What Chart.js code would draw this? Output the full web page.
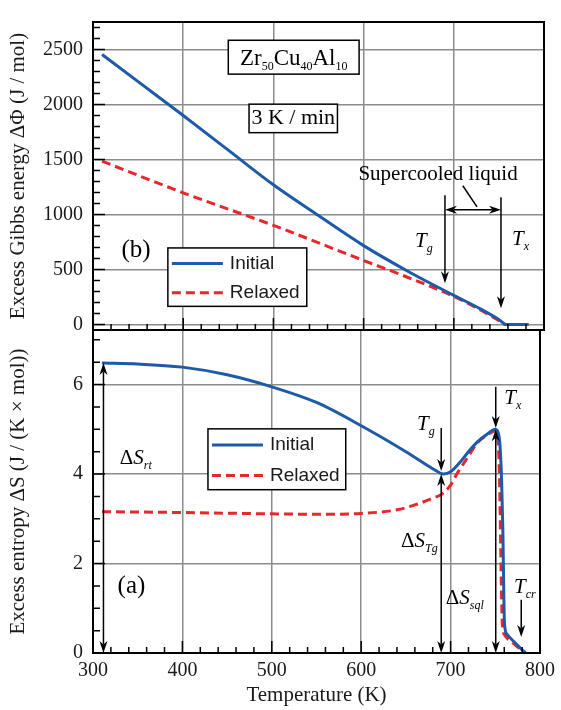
<!DOCTYPE html>
<html>
<head>
<meta charset="utf-8">
<script src="https://cdn.jsdelivr.net/npm/chart.js@4.4.1/dist/chart.umd.min.js"></script>
<style>
  html, body { margin: 0; padding: 0; background: #fff; }
  #wrap { position: relative; width: 561px; height: 710px; }
  #wrap canvas { position: absolute; left: 0; top: 0; }
</style>
</head>
<body>
<div id="wrap">
  <canvas id="gibbsChart" width="561" height="710"></canvas>
  <canvas id="entropyChart" width="561" height="710"></canvas>
</div>
<script>
// ---- data ----
const xTicks = [300, 400, 500, 600, 700, 800];
const gibbsTicks = [0, 500, 1000, 1500, 2000, 2500];
const entropyTicks = [0, 2, 4, 6];

// (b) excess Gibbs energy, J/mol
const gibbsInitialT = [310, 350, 400, 450, 500, 550, 600, 650, 700, 730, 750, 758, 783];
const gibbsInitial  = [2455, 2208, 1900, 1585, 1270, 990, 717, 480, 265, 140, 45, 0, 0];
const gibbsRelaxedT = [310, 400, 500, 600, 650, 700, 730, 750, 757, 783];
const gibbsRelaxed  = [1485, 1197, 901, 582, 425, 255, 130, 35, 0, 0];

// (a) excess entropy, J/(K mol)
const entropyInitialT = [310, 350, 400, 450, 500, 550, 600, 650, 680, 692, 700, 710, 720, 730, 740, 750, 752, 755, 757, 758.5, 759.3, 760.3, 763, 771, 777, 784];
const entropyInitial  = [6.48, 6.46, 6.39, 6.22, 5.95, 5.6, 5.08, 4.5, 4.12, 4.0, 4.05, 4.25, 4.5, 4.72, 4.88, 5.0, 4.98, 4.7, 3.9, 2.7, 1.6, 0.65, 0.42, 0.25, 0.13, 0];
const entropyRelaxedT = [310, 400, 500, 560, 600, 640, 660, 680, 690, 700, 707, 720, 730, 744, 750, 752, 754, 755, 756, 757, 758, 760, 770, 783];
const entropyRelaxed  = [3.16, 3.14, 3.11, 3.10, 3.12, 3.2, 3.31, 3.46, 3.55, 3.75, 4.0, 4.4, 4.7, 4.91, 4.97, 4.9, 4.4, 3.6, 2.4, 1.3, 0.6, 0.42, 0.22, 0];

const BLUE = '#1d5aa8';
const RED = '#e8262b';
const GRID = '#8c8c8c';
const SERIF = '"Liberation Serif", "Times New Roman", serif';
const SANS = '"Liberation Sans", Arial, sans-serif';

Chart.defaults.font.family = SERIF;
Chart.defaults.color = '#1a1a1a';

function pairs(xs, ys) {
  return xs.map((x, i) => ({ x: x, y: ys[i] }));
}

function lineSet(label, xs, ys, color, dashed) {
  return {
    label: label,
    data: pairs(xs, ys),
    borderColor: color,
    borderWidth: 3,
    borderDash: dashed ? [9, 5] : [],
    pointRadius: 0,
    fill: false,
    cubicInterpolationMode: 'monotone'
  };
}

// ---- little drawing helpers for the annotations ----
function fontOf(p) {
  return (p.italic ? 'italic ' : '') + p.size + 'px ' + SERIF;
}

function richWidth(ctx, parts) {
  let w = 0;
  parts.forEach(p => { ctx.font = fontOf(p); w += ctx.measureText(p.t).width; });
  return w;
}

// parts drawn left to right from x, baseline y; sub parts dropped a bit
function drawRich(ctx, x, y, parts) {
  ctx.textAlign = 'left';
  ctx.textBaseline = 'alphabetic';
  parts.forEach(p => {
    ctx.font = fontOf(p);
    ctx.fillText(p.t, x, y + (p.sub ? 5 : 0));
    x += ctx.measureText(p.t).width;
  });
}

function arrow(ctx, x1, y1, x2, y2) {
  const a = Math.atan2(y2 - y1, x2 - x1);
  const L = 12, W = 4;
  const bx = x2 - L * 0.7 * Math.cos(a), by = y2 - L * 0.7 * Math.sin(a);
  ctx.beginPath();
  ctx.moveTo(x1, y1);
  ctx.lineTo(bx, by);
  ctx.stroke();
  ctx.beginPath();
  ctx.moveTo(x2, y2);
  ctx.lineTo(x2 - L * Math.cos(a) + W * Math.sin(a), y2 - L * Math.sin(a) - W * Math.cos(a));
  ctx.lineTo(bx, by);
  ctx.lineTo(x2 - L * Math.cos(a) - W * Math.sin(a), y2 - L * Math.sin(a) + W * Math.cos(a));
  ctx.closePath();
  ctx.fill();
}

function doubleArrow(ctx, x1, y1, x2, y2) {
  const mx = (x1 + x2) / 2, my = (y1 + y2) / 2;
  arrow(ctx, mx, my, x1, y1);
  arrow(ctx, mx, my, x2, y2);
}

function whiteBox(ctx, x1, y1, x2, y2) {
  ctx.fillStyle = '#fff';
  ctx.fillRect(x1, y1, x2 - x1, y2 - y1);
  ctx.strokeStyle = '#000';
  ctx.lineWidth = 1.5;
  ctx.strokeRect(x1, y1, x2 - x1, y2 - y1);
  ctx.fillStyle = '#000';
}

function drawLegend(chart, x1, y1, x2, y2) {
  const ctx = chart.ctx;
  whiteBox(ctx, x1, y1, x2, y2);
  const rowH = (y2 - y1) / 2;
  chart.data.datasets.forEach((ds, i) => {
    const cy = y1 + rowH * (i + 0.5) + 1;
    ctx.save();
    ctx.strokeStyle = ds.borderColor;
    ctx.lineWidth = 3;
    ctx.setLineDash(ds.borderDash);
    ctx.beginPath();
    ctx.moveTo(x1 + 4, cy);
    ctx.lineTo(x1 + 55, cy);
    ctx.stroke();
    ctx.restore();
    ctx.fillStyle = '#1a1a1a';
    ctx.font = '19px ' + SANS;
    ctx.textAlign = 'left';
    ctx.textBaseline = 'middle';
    ctx.fillText(ds.label, x1 + 62, cy);
  });
}

// plot frame plus the inward tick marks on the left and bottom
function framePlugin(yMinor, yMajor) {
  return {
    id: 'frame',
    afterDatasetsDraw(chart) {
      const { ctx, chartArea: a, scales: { x, y } } = chart;
      ctx.save();
      ctx.strokeStyle = '#000';
      ctx.lineWidth = 1.5;
      ctx.beginPath();
      for (let t = 300; t <= 800; t += 20) {
        const px = x.getPixelForValue(t);
        const len = t % 100 === 0 ? 12 : 6;
        ctx.moveTo(px, a.bottom);
        ctx.lineTo(px, a.bottom - len);
      }
      for (let v = Math.ceil(y.min / yMinor) * yMinor; v <= y.max + 1e-9; v += yMinor) {
        const py = y.getPixelForValue(v);
        const major = Math.abs(v / yMajor - Math.round(v / yMajor)) < 1e-6;
        ctx.moveTo(a.left, py);
        ctx.lineTo(a.left + (major ? 12 : 7), py);
      }
      ctx.stroke();
      ctx.lineWidth = 2;
      ctx.strokeRect(a.left, a.top, a.right - a.left, a.bottom - a.top);
      ctx.restore();
    }
  };
}

const gibbsNotes = {
  id: 'gibbsNotes',
  afterDatasetsDraw(chart) {
    const { ctx, scales: { x, y } } = chart;
    const X = v => x.getPixelForValue(v), Y = v => y.getPixelForValue(v);
    ctx.save();
    ctx.fillStyle = '#000';
    ctx.strokeStyle = '#000';
    ctx.lineWidth = 1.5;

    // composition box
    whiteBox(ctx, X(450), Y(2584), X(595), Y(2276));
    const formula = [
      { t: 'Zr', size: 23 }, { t: '50', size: 12, sub: true },
      { t: 'Cu', size: 23 }, { t: '40', size: 12, sub: true },
      { t: 'Al', size: 23 }, { t: '10', size: 12, sub: true }
    ];
    drawRich(ctx, X(522.5) - richWidth(ctx, formula) / 2, Y(2430) + 8, formula);

    // heating rate box
    whiteBox(ctx, X(473), Y(2003), X(571), Y(1744));
    ctx.font = '22px ' + SERIF;
    ctx.textAlign = 'center';
    ctx.textBaseline = 'middle';
    ctx.fillText('3 K / min', X(522), Y(1872));

    ctx.font = '25px ' + SERIF;
    ctx.fillText('(b)', X(347.7), Y(674));

    ctx.font = '21px ' + SERIF;
    ctx.fillText('Supercooled liquid', X(682.5), Y(1365));

    ctx.strokeStyle = '#000';
    ctx.lineWidth = 1.5;
    ctx.beginPath();
    ctx.moveTo(X(710), Y(1261));
    ctx.lineTo(X(725.7), Y(1070));
    ctx.stroke();
    doubleArrow(ctx, X(690.2), Y(1043), X(752.3), Y(1043));
    arrow(ctx, X(690.2), Y(1174), X(690.2), Y(374));
    arrow(ctx, X(752.3), Y(1157), X(752.3), Y(148));

    drawRich(ctx, X(657), Y(765) + 7, [{ t: 'T', size: 21, italic: true }, { t: 'g', size: 12, italic: true, sub: true }]);
    drawRich(ctx, X(764.5), Y(783) + 7, [{ t: 'T', size: 21, italic: true }, { t: 'x', size: 12, italic: true, sub: true }]);

    drawLegend(chart, X(383), Y(696), X(537), Y(165));
    ctx.restore();
  }
};

const entropyNotes = {
  id: 'entropyNotes',
  afterDatasetsDraw(chart) {
    const { ctx, scales: { x, y } } = chart;
    const X = v => x.getPixelForValue(v), Y = v => y.getPixelForValue(v);
    ctx.save();
    ctx.fillStyle = '#000';
    ctx.strokeStyle = '#000';
    ctx.lineWidth = 1.5;

    doubleArrow(ctx, X(311.7), Y(entropyInitial[0]), X(311.7), Y(0));
    doubleArrow(ctx, X(689.5), Y(4.0), X(689.5), Y(0));
    doubleArrow(ctx, X(750.5), Y(5.0), X(750.5), Y(0));
    arrow(ctx, X(689.5), Y(5.03), X(689.5), Y(4.07));
    arrow(ctx, X(750.5), Y(5.95), X(750.5), Y(5.03));
    arrow(ctx, X(779), Y(1.19), X(779), Y(0.36));

    const big = 21, small = 12;
    drawRich(ctx, X(330), Y(4.38) + 7, [{ t: 'Δ', size: big }, { t: 'S', size: big, italic: true }, { t: 'rt', size: small, italic: true, sub: true }]);
    drawRich(ctx, X(662.5), Y(5.15) + 7, [{ t: 'T', size: big, italic: true }, { t: 'g', size: small, italic: true, sub: true }]);
    drawRich(ctx, X(644.6), Y(2.53) + 7, [{ t: 'Δ', size: big }, { t: 'S', size: big, italic: true }, { t: 'Tg', size: small, italic: true, sub: true }]);
    drawRich(ctx, X(694.7), Y(1.25) + 7, [{ t: 'Δ', size: big }, { t: 'S', size: big, italic: true }, { t: 'sql', size: small, italic: true, sub: true }]);
    drawRich(ctx, X(760), Y(5.73) + 7, [{ t: 'T', size: big, italic: true }, { t: 'x', size: small, italic: true, sub: true }]);
    drawRich(ctx, X(771), Y(1.5) + 7, [{ t: 'T', size: big, italic: true }, { t: 'cr', size: small, italic: true, sub: true }]);

    ctx.font = '25px ' + SERIF;
    ctx.textAlign = 'center';
    ctx.textBaseline = 'middle';
    ctx.fillText('(a)', X(343), Y(1.48));

    drawLegend(chart, X(428.6), Y(5.01), X(582.7), Y(3.65));
    ctx.restore();
  }
};

const setTicks = list => axis => { axis.ticks = list.map(v => ({ value: v })); };
const plainLabel = v => String(v);
const gridOpts = { color: GRID, lineWidth: 1.5, drawTicks: false };

// ---- (b) top panel ----
new Chart(document.getElementById('gibbsChart'), {
  type: 'line',
  data: {
    datasets: [
      lineSet('Initial', gibbsInitialT, gibbsInitial, BLUE, false),
      lineSet('Relaxed', gibbsRelaxedT, gibbsRelaxed, RED, true)
    ]
  },
  options: {
    responsive: false,
    animation: false,
    layout: { padding: { top: 7, right: 17, bottom: 380, left: 0 } },
    plugins: { legend: { display: false }, tooltip: { enabled: false } },
    scales: {
      x: {
        type: 'linear', min: 300, max: 800,
        afterBuildTicks: setTicks(xTicks),
        afterFit: s => { s.height = 0; },
        ticks: { display: false },
        grid: gridOpts,
        border: { display: false }
      },
      y: {
        min: -50, max: 2750,
        afterBuildTicks: setTicks(gibbsTicks),
        afterFit: s => { s.width = 93; },
        ticks: { font: { size: 20 }, padding: 10, callback: plainLabel },
        grid: gridOpts,
        border: { display: false },
        title: { display: true, text: 'Excess Gibbs energy ΔΦ (J / mol)', font: { size: 21 }, padding: { top: 6, bottom: 0 } }
      }
    }
  },
  plugins: [framePlugin(100, 500), gibbsNotes]
});

// ---- (a) bottom panel ----
new Chart(document.getElementById('entropyChart'), {
  type: 'line',
  data: {
    datasets: [
      lineSet('Initial', entropyInitialT, entropyInitial, BLUE, false),
      lineSet('Relaxed', entropyRelaxedT, entropyRelaxed, RED, true)
    ]
  },
  options: {
    responsive: false,
    animation: false,
    layout: { padding: { top: 330, right: 17, bottom: 0, left: 0 } },
    plugins: { legend: { display: false }, tooltip: { enabled: false } },
    scales: {
      x: {
        type: 'linear', min: 300, max: 800,
        afterBuildTicks: setTicks(xTicks),
        afterFit: s => { s.height = 57; },
        ticks: { font: { size: 20 }, padding: 6, maxRotation: 0, callback: plainLabel },
        grid: gridOpts,
        border: { display: false },
        title: { display: true, text: 'Temperature (K)', font: { size: 21 }, padding: { top: 0, bottom: 2 } }
      },
      y: {
        min: 0, max: 7.22,
        afterBuildTicks: setTicks(entropyTicks),
        afterFit: s => { s.width = 93; },
        ticks: { font: { size: 20 }, padding: 10, callback: plainLabel },
        grid: gridOpts,
        border: { display: false },
        title: { display: true, text: 'Excess entropy ΔS (J / (K × mol))', font: { size: 21 }, padding: { top: 6, bottom: 0 } }
      }
    }
  },
  plugins: [framePlugin(0.5, 2), entropyNotes]
});
</script>
</body>
</html>
